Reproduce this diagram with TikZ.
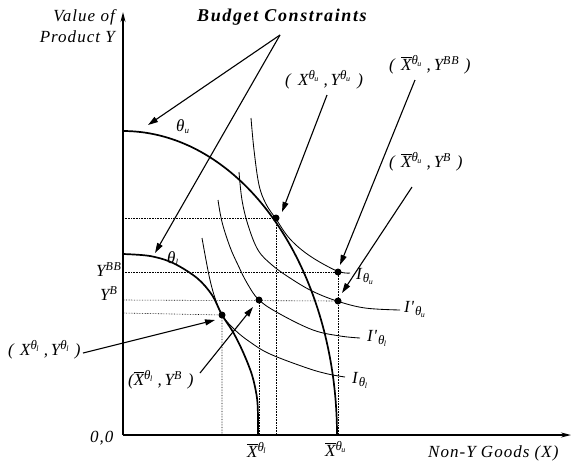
\documentclass[tikz,border=0pt]{standalone}
\usepackage{fontspec}
\setmainfont{Liberation Serif}
\newfontfamily\labfont[LetterSpace=6]{Liberation Serif}
\newfontfamily\bcfont[LetterSpace=9]{Liberation Serif}
\usetikzlibrary{arrows.meta}
\newcommand\supth[1]{\raisebox{0.7ex}{\fontsize{13}{13}\selectfont θ\kern-0.5pt\raisebox{-0.3ex}{\fontsize{8}{8}\selectfont #1}}}
\newcommand\supt[1]{\raisebox{0.75ex}{\fontsize{12}{12}\selectfont #1}}
\newcommand\Xb{$\overline{\hbox{\itshape X}}$}
\newcommand\subth[1]{\raisebox{-0.5ex}{\fontsize{13}{13}\selectfont θ\kern-0.5pt\raisebox{-0.3ex}{\fontsize{8}{8}\selectfont #1}}}
\tikzset{
  axis/.style={line width=1.4pt,-{Stealth[length=10pt,width=5pt]}},
  budget/.style={line width=1.7pt},
  indiff/.style={line width=0.85pt},
  guide/.style={densely dotted,line width=0.6pt},
  ptr/.style={line width=1.1pt,-{Triangle[length=10pt,width=6pt]}},
  dot/.style={circle,fill=black,inner sep=0pt,minimum size=7pt},
  lab/.style={font=\labfont\fontsize{17}{19}\selectfont\itshape,inner sep=0pt},
}
\begin{document}
\begin{tikzpicture}[x=1pt,y=-1pt]
\useasboundingbox (0,0) rectangle (572,461);
% axes
\coordinate (O) at (123,435);
\coordinate (ytop) at (123,12);
\coordinate (xend) at (571,435);
\draw[axis] (O) -- (ytop);
\draw[axis] (O) -- (xend);
% dots
\node[dot] (dU) at (276,218) {};
\node[dot] (dBB) at (338,272) {};
\node[dot] (dB) at (338,301) {};
\node[dot] (dL) at (222,315) {};
\node[dot] (dLB) at (259,300) {};
% guide lines
\draw[guide] (123,218) -- (dU.center) -- (276,435);
\draw[guide] (123,272) -- (dBB.center) -- (338,435);
\draw[guide] (123,300) -- (dB.center);
\draw[guide] (123,313) -- (dL.center) -- (222,435);
\draw[guide] (dLB.center) -- (259,435);
% budget constraints
\draw[budget] plot[domain=0:90,samples=90] ({123+214*sin(\x)},{435-304*cos(\x)});
\draw[budget] plot[smooth,tension=0.55] coordinates {(123,254) (150,256) (173,263) (197,278) (212,295) (222,315) (233,332) (243,352) (252,375) (257,398) (258,418) (258,435)};
% indifference curves
\draw[indiff] plot[smooth,tension=0.6] coordinates {(251,118) (254,150) (259,185) (266,204) (276,219) (290,239) (310,256) (337,271) (350,273)};
\draw[indiff] plot[smooth,tension=0.6] coordinates {(239,172) (242,200) (248,225) (258,250) (272,265) (290,278) (312,291) (337,301) (365,308) (400,310)};
\draw[indiff] plot[smooth,tension=0.6] coordinates {(218,200) (222,222) (230,247) (238,265) (247,283) (259,300) (280,314) (313,330) (340,336) (360,338)};
\draw[indiff] plot[smooth,tension=0.6] coordinates {(202,238) (206,260) (210,280) (215,298) (222,315) (235,330) (250,342) (270,354) (307,368) (328,374) (345,377)};
% axis labels
\node[lab,anchor=base east] (vy1) at (115,21) {Value of};
\node[lab,anchor=base east] (vy2) at (115,42) {Product Y};
\node[lab,anchor=base west] (nx) at (428,457) {Non-Y Goods (X)};
\node[lab,anchor=base west] (o) at (90,442) {0,0};
\node[lab,anchor=base west] (xl) at (247,457) {\Xb\supth{l}};
\node[lab,anchor=base west] (xu) at (325,456) {\Xb\supth{u}};
\node[lab,anchor=base west] (ybb) at (96,276) {Y\supt{BB}};
\node[lab,anchor=base west] (yb) at (100,300) {Y\supt{B}};
% budget label and arrows
\node[inner sep=0pt,font=\bcfont\fontsize{18}{20}\selectfont\bfseries\itshape,anchor=base west] (bc) at (197,21) {Budget Constraints};
\coordinate (bcs) at (280,35);
\coordinate (tipU) at (148,125);
\coordinate (tipL) at (155,253);
\draw[ptr] (bcs) -- (tipU);
\draw[ptr] (bcs) -- (tipL);
\node[lab,anchor=base west] (thu) at (176,131) {θ\raisebox{-0.35ex}{\fontsize{9}{9}\selectfont u}};
\node[lab,anchor=base west] (thl) at (167,263) {θ\raisebox{-0.35ex}{\fontsize{9}{9}\selectfont l}};
% point labels
\node[lab,anchor=base west] (lU) at (285,85) {(\hspace{2pt} X\supth{u} ,\,Y\supth{u}\hspace{2pt} )};
\node[lab,anchor=base west] (lBB) at (389,70) {(\hspace{1pt} \Xb\supth{u} ,\,Y\supt{BB}\hspace{1pt} )};
\node[lab,anchor=base west] (lB) at (389,167) {(\hspace{1pt} \Xb\supth{u} ,\,Y\supt{B}\hspace{1pt} )};
\node[lab,anchor=base west] (lL) at (8,355) {(\hspace{1pt} X\supth{l} ,\,Y\supth{l}\hspace{1pt} )};
\node[lab,anchor=base west] (lLB) at (128,385) {(\Xb\supth{l} ,\,Y\supt{B}\hspace{1pt} )};
\coordinate (sU) at (327,95);
\coordinate (sBB) at (415,80);
\coordinate (sB) at (412,187);
\coordinate (sL) at (83,353);
\coordinate (sLB) at (200,373);
\draw[ptr] (sU) -- (282,212);
\draw[ptr] (sBB) -- (340,265);
\draw[ptr] (sB) -- (342,293);
\draw[ptr] (sL) -- (215,320);
\draw[ptr] (sLB) -- (253,307);
% indifference labels
\node[lab,anchor=base west] (iU) at (356,279) {I\kern1pt\subth{u}};
\node[lab,anchor=base west] (iUp) at (404,312) {I\kern0.5pt'\kern1pt\subth{u}};
\node[lab,anchor=base west] (iLp) at (367,341) {I\kern0.5pt'\kern1pt\subth{l}};
\node[lab,anchor=base west] (iL) at (352,383) {I\kern1pt\subth{l}};
\end{tikzpicture}
\end{document}
